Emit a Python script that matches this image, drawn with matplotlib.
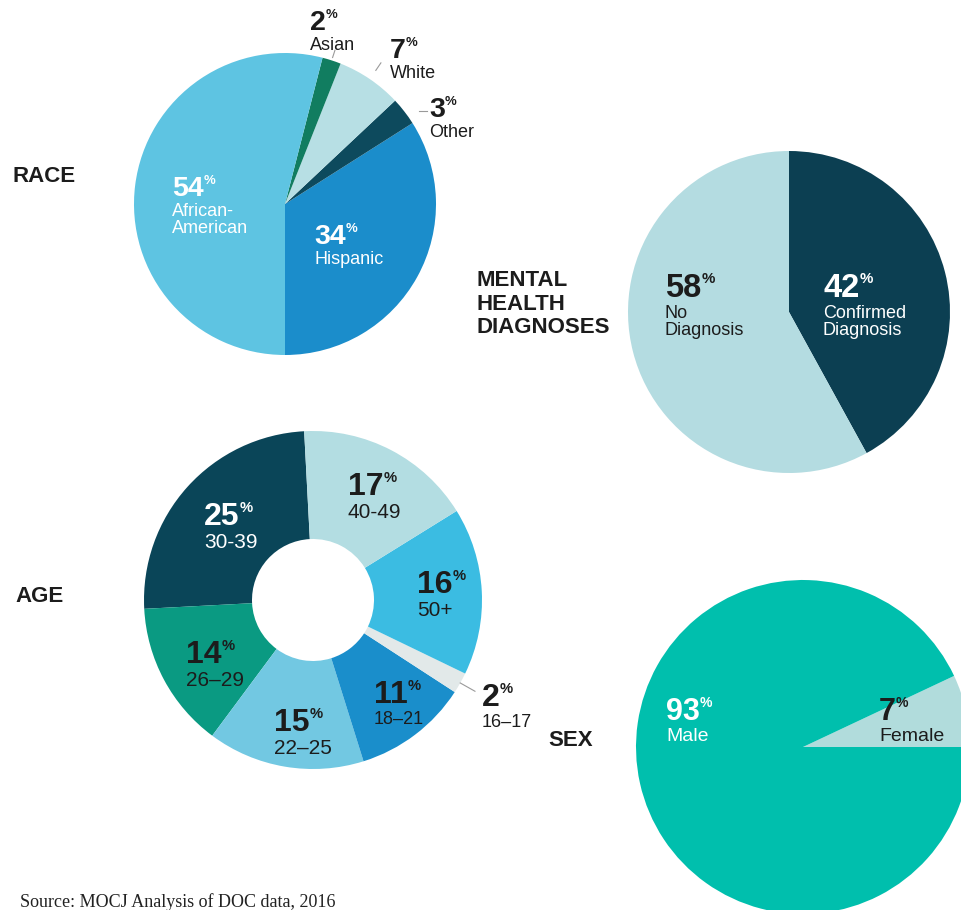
import numpy as np
import matplotlib.pyplot as plt

W, H = 961, 910

# race, counter-clockwise from the bottom
race_names = ["Hispanic", "Other", "White", "Asian", "African-\nAmerican"]
race_values = [34, 3, 7, 2, 54]
race_colors = ["#1b8dcb", "#0d4a5d", "#b7dfe4", "#117d60", "#5ec4e2"]

# mental health, clockwise from the top
mental_names = ["Confirmed\nDiagnosis", "No\nDiagnosis"]
mental_values = [42, 58]
mental_colors = ["#0c3f52", "#b4dce1"]

# age, counter-clockwise from the top
age_names = ["30-39", "26\u201329", "22\u201325", "18\u201321", "16\u201317", "50+", "40-49"]
age_values = [25, 14, 15, 11, 2, 16, 17]
age_colors = ["#0a4558", "#0a9a82", "#72c8e2", "#1a8ecb", "#e2e9e9", "#3bbce2", "#b3dde2"]

sex_names = ["Female", "Male"]
sex_values = [7, 93]
sex_colors = ["#b1dcdc", "#00bfad"]

DARK = "#1c1c1c"

plt.rcParams["font.family"] = ["Liberation Sans", "DejaVu Sans"]


def px(x, y):
    return x, H - y


def pct_label(ax, x, y, value, name, color, size, name_size):
    num = ax.text(*px(x, y), str(value), fontsize=size, fontweight="bold",
                  color=color, ha="left", va="top")
    ax.annotate("%", xy=(1, 1), xycoords=num, xytext=(0, 0.5),
                textcoords="offset points", fontsize=size * 0.46,
                fontweight="bold", color=color, ha="left", va="top")
    ax.annotate(name, xy=(0, 0), xycoords=num, xytext=(0, -0.5),
                textcoords="offset points", fontsize=name_size, color=color,
                ha="left", va="top", linespacing=1.02)


def leader(ax, wedge, center, r, r0, r1, frac=0.5, horizontal=False):
    ang = np.deg2rad(wedge.theta1 + frac * (wedge.theta2 - wedge.theta1))
    x0 = center[0] + r * r0 * np.cos(ang)
    y0 = center[1] + r * r0 * np.sin(ang)
    if horizontal:
        x1, y1 = x0 + 8, y0
    else:
        x1 = center[0] + r * r1 * np.cos(ang)
        y1 = center[1] + r * r1 * np.sin(ang)
    ax.plot([x0, x1], [y0, y1], color="#9a9a9a", lw=0.8)


fig = plt.figure(figsize=(W / 100, H / 100), dpi=100)
ax = fig.add_axes([0, 0, 1, 1])

race_c, race_r = px(285, 204), 151
race_w, _ = ax.pie(race_values, colors=race_colors, startangle=-90,
                   counterclock=True, center=race_c, radius=race_r,
                   wedgeprops=dict(linewidth=0))

mental_c, mental_r = px(789, 312), 161
ax.pie(mental_values, colors=mental_colors, startangle=90, counterclock=False,
       center=mental_c, radius=mental_r, wedgeprops=dict(linewidth=0))

age_c, age_r = px(313, 600), 169
age_w, _ = ax.pie(age_values, colors=age_colors, startangle=93,
                  counterclock=True, center=age_c, radius=age_r,
                  wedgeprops=dict(width=108, linewidth=0))

sex_c, sex_r = px(803, 747), 167
ax.pie(sex_values, colors=sex_colors, startangle=0, counterclock=True,
       center=sex_c, radius=sex_r, wedgeprops=dict(linewidth=0))

ax.set_xlim(0, W)
ax.set_ylim(0, H)
ax.set_aspect("equal")
ax.axis("off")

# leader lines for the small slices
leader(ax, race_w[3], race_c, race_r, 1.02, 1.07)
leader(ax, race_w[2], race_c, race_r, 1.07, 1.13)
leader(ax, race_w[1], race_c, race_r, 1.08, 1.13, frac=0.2, horizontal=True)
leader(ax, age_w[4], age_c, age_r, 1.0, 1.1)

# race labels
race_pos = [(314, 224), (429, 97), (390, 38), (310, 10), (172, 176)]
race_text = ["white", DARK, DARK, DARK, "white"]
for (x, y), v, n, c in zip(race_pos, race_values, race_names, race_text):
    pct_label(ax, x, y, v, n, c, 20.5, 13)

# mental labels
mental_pos = [(823, 273), (665, 273)]
mental_text = ["white", DARK]
for (x, y), v, n, c in zip(mental_pos, mental_values, mental_names, mental_text):
    pct_label(ax, x, y, v, n, c, 23.5, 13)

# age labels
age_pos = [(204, 502), (186, 640), (274, 708), (374, 680), (482, 683), (417, 570), (348, 472)]
age_text = ["white", DARK, DARK, DARK, DARK, DARK, DARK]
age_name_sizes = [15, 15, 15, 13, 13, 15, 15]
for (x, y), v, n, c, s in zip(age_pos, age_values, age_names, age_text, age_name_sizes):
    pct_label(ax, x, y, v, n, c, 23, s)

# sex labels
sex_pos = [(879, 697), (666, 697)]
sex_text = [DARK, "white"]
for (x, y), v, n, c in zip(sex_pos, sex_values, sex_names, sex_text):
    pct_label(ax, x, y, v, n, c, 22, 14)

# section titles
title_kw = dict(fontsize=16, fontweight="bold", color=DARK, ha="left", va="center")
ax.text(*px(12, 176), "RACE", **title_kw)
ax.text(*px(476, 304), "MENTAL\nHEALTH\nDIAGNOSES", linespacing=1.15, **title_kw)
ax.text(*px(15, 596), "AGE", **title_kw)
ax.text(*px(548, 740), "SEX", **title_kw)

ax.text(*px(20, 907), "Source: MOCJ Analysis of DOC data, 2016",
        fontsize=13, family="Liberation Serif", color="#222222",
        ha="left", va="baseline")

fig.savefig("out.png", dpi=100)
